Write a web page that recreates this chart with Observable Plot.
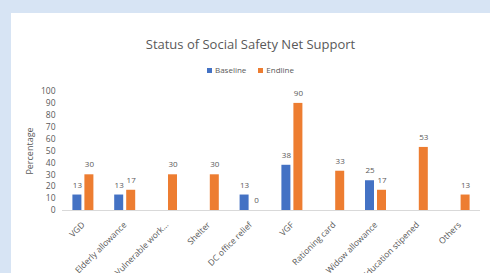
<!DOCTYPE html>
<html>
<head>
<meta charset="utf-8">
<script src="https://cdn.jsdelivr.net/npm/d3@7"></script>
<script src="https://cdn.jsdelivr.net/npm/@observablehq/plot@0.6"></script>
<style>
  html, body { margin: 0; padding: 0; }
  body { width: 490px; height: 273px; background: #d7e4f4; overflow: hidden; position: relative; font-family: "Open Sans", sans-serif; }
  #panel { position: absolute; left: 11px; top: 13px; width: 479px; height: 260px; background: #fff; overflow: hidden; }
  #title { position: absolute; left: 0; width: 479px; top: 22px; text-align: center; font-size: 13px; color: #595959; line-height: 18px; }
  #legend { position: absolute; left: 0; width: 479px; top: 52px; text-align: center; font-size: 8px; color: #595959; line-height: 10px; }
  #legend span.sw { display: inline-block; width: 5px; height: 5px; margin-right: 3px; vertical-align: 0px; }
  #legend span.item { margin: 0 6px; }
  #chart { position: absolute; left: 0; top: 0; }
</style>
</head>
<body>
<div id="panel">
  <div id="chart"></div>
  <div id="title">Status of Social Safety Net Support</div>
  <div id="legend"></div>
</div>
<script>
const categories = ["VGD", "Elderly allowance", "Vulnerable work…", "Shelter", "DC office relief", "VGF", "Rationing card", "Widow allowance", "Education stipened", "Others"];
const baseline = [13, 13, null, null, 13, 38, null, 25, null, null];
const endline = [30, 17, 30, 30, 0, 90, 33, 17, 53, 13];
const seriesNames = ["Baseline", "Endline"];
const seriesColors = ["#4472c4", "#ed7d31"];
const yTicks = [0, 10, 20, 30, 40, 50, 60, 70, 80, 90, 100];

const baseRows = categories.map((c, i) => ({category: c, value: baseline[i]})).filter(d => d.value != null);
const endRows = categories.map((c, i) => ({category: c, value: endline[i]})).filter(d => d.value != null);

const legend = document.getElementById("legend");
legend.innerHTML = seriesNames.map((n, i) =>
  `<span class="item"><span class="sw" style="background:${seriesColors[i]}"></span>${n}</span>`).join("");

const W = 479, H = 260, ML = 51, MR = 10;
const band = (W - ML - MR) / categories.length;
const half = band / 2;
const barW = 9, gap = 3;

const plot = Plot.plot({
  width: W,
  height: H,
  marginLeft: ML,
  marginRight: MR,
  marginTop: 78,
  marginBottom: 63,
  style: {fontFamily: "Open Sans, sans-serif", background: "transparent", color: "#595959"},
  x: {domain: categories, padding: 0, round: false},
  y: {domain: [0, 100]},
  marks: [
    Plot.ruleY([0], {stroke: "#d9d9d9", strokeWidth: 1}),
    Plot.axisY({ticks: yTicks, tickSize: 0, tickPadding: 7, fontSize: 8.5, label: null, fill: "#595959"}),
    Plot.axisX({tickSize: 0, tickRotate: -45, tickPadding: 13, fontSize: 8.5, label: null, fill: "#595959"}),
    Plot.text(["Percentage"], {frameAnchor: "left", dx: -32, rotate: -90, textAnchor: "middle", fontSize: 9, fill: "#595959"}),
    Plot.barY(baseRows, {x: "category", y: "value", fill: seriesColors[0],
      insetLeft: half - gap / 2 - barW, insetRight: half + gap / 2}),
    Plot.barY(endRows, {x: "category", y: "value", fill: seriesColors[1],
      insetLeft: half + gap / 2, insetRight: half - gap / 2 - barW}),
    Plot.text(baseRows, {x: "category", y: "value", text: d => String(d.value), dx: -(gap / 2 + barW / 2), dy: -10, fontSize: 8, fill: "#595959"}),
    Plot.text(endRows, {x: "category", y: "value", text: d => String(d.value), dx: gap / 2 + barW / 2, dy: -10, fontSize: 8, fill: "#595959"})
  ]
});
document.getElementById("chart").appendChild(plot);
</script>
</body>
</html>
